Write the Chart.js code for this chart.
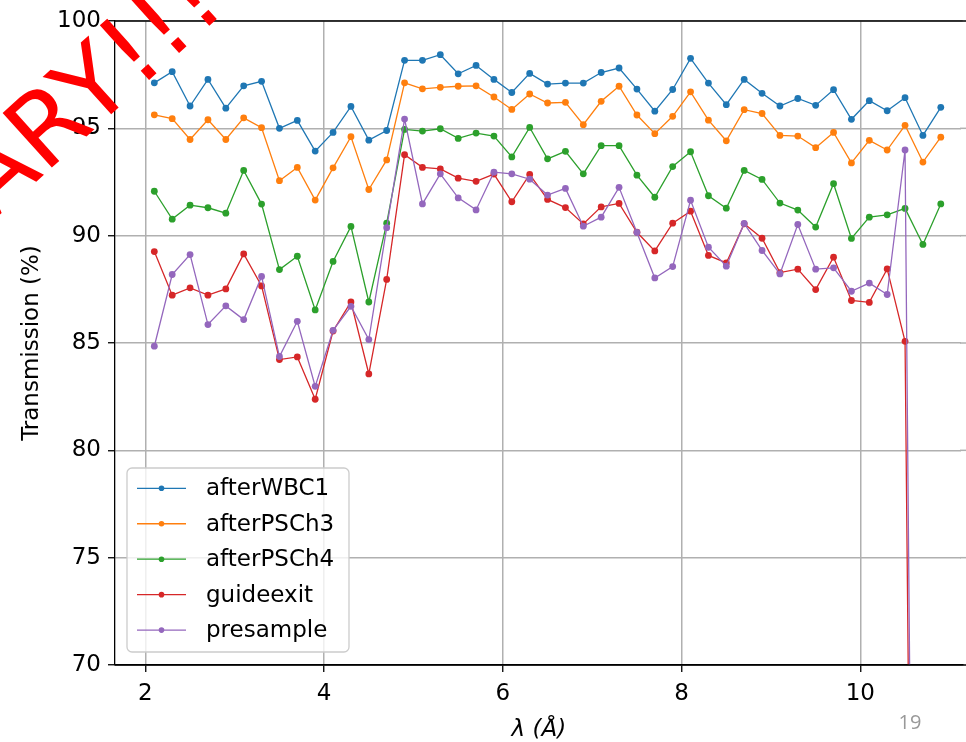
<!DOCTYPE html>
<html>
<head>
<meta charset="utf-8">
<script src="https://cdn.jsdelivr.net/npm/chart.js@4.4.0/dist/chart.umd.min.js"></script>
<style>
html, body { margin: 0; padding: 0; background: #fff; overflow: hidden; }
canvas { display: block; }
</style>
</head>
<body>
<canvas id="grafico" width="966" height="742"></canvas>
<script>
// wavelength (Angstrom)
var lambda = [2.1, 2.3, 2.5, 2.7, 2.9, 3.1, 3.3, 3.5, 3.7, 3.9,
              4.1, 4.3, 4.5, 4.7, 4.9, 5.1, 5.3, 5.5, 5.7, 5.9,
              6.1, 6.3, 6.5, 6.7, 6.9, 7.1, 7.3, 7.5, 7.7, 7.9,
              8.1, 8.3, 8.5, 8.7, 8.9, 9.1, 9.3, 9.5, 9.7, 9.9,
              10.1, 10.3, 10.5, 10.7, 10.9];

var afterWBC1 = [97.12, 97.64, 96.04, 97.28, 95.94, 96.98, 97.19, 95.0, 95.37, 93.94,
                 94.81, 96.02, 94.45, 94.9, 98.17, 98.17, 98.43, 97.54, 97.93, 97.28,
                 96.67, 97.56, 97.06, 97.11, 97.11, 97.6, 97.81, 96.83, 95.8, 96.81,
                 98.26, 97.11, 96.1, 97.28, 96.63, 96.04, 96.39, 96.07, 96.8, 95.42,
                 96.29, 95.82, 96.43, 94.67, 95.98];
var afterPSCh3 = [95.63, 95.45, 94.48, 95.4, 94.48, 95.49, 95.03, 92.56, 93.18, 91.66,
                  93.16, 94.61, 92.15, 93.53, 97.12, 96.84, 96.91, 96.96, 96.98, 96.46,
                  95.88, 96.6, 96.18, 96.21, 95.17, 96.26, 96.96, 95.62, 94.75, 95.56,
                  96.7, 95.38, 94.42, 95.87, 95.69, 94.67, 94.64, 94.1, 94.81, 93.39,
                  94.44, 93.99, 95.14, 93.43, 94.59];
var afterPSCh4 = [92.07, 90.77, 91.42, 91.3, 91.05, 93.04, 91.47, 88.42, 89.04, 86.54,
                  88.8, 90.43, 86.91, 90.58, 94.95, 94.87, 94.98, 94.53, 94.78, 94.64,
                  93.67, 95.04, 93.58, 93.93, 92.88, 94.19, 94.19, 92.82, 91.79, 93.22,
                  93.91, 91.86, 91.28, 93.04, 92.62, 91.52, 91.19, 90.4, 92.42, 89.87,
                  90.86, 90.97, 91.27, 89.59, 91.48];
var guideexit = [89.26, 87.23, 87.57, 87.23, 87.52, 89.15, 87.66, 84.23, 84.35, 82.38,
                 85.56, 86.91, 83.56, 87.96, 93.77, 93.18, 93.11, 92.68, 92.53, 92.87,
                 91.58, 92.85, 91.69, 91.31, 90.55, 91.34, 91.5, 90.16, 89.29, 90.58,
                 91.14, 89.08, 88.73, 90.55, 89.88, 88.28, 88.44, 87.49, 89.0, 86.98,
                 86.89, 88.45, 85.08, 0, 0];
var presample = [84.85, 88.19, 89.12, 85.86, 86.73, 86.09, 88.1, 84.37, 86.01, 82.98,
                 85.59, 86.71, 85.16, 90.37, 95.43, 91.48, 92.88, 91.76, 91.2, 92.96,
                 92.88, 92.63, 91.89, 92.2, 90.44, 90.86, 92.25, 90.15, 88.03, 88.56,
                 91.65, 89.46, 88.58, 90.57, 89.31, 88.22, 90.52, 88.44, 88.5, 87.41,
                 87.79, 87.26, 93.99, 0, 0];

var seriesNames = ['afterWBC1', 'afterPSCh3', 'afterPSCh4', 'guideexit', 'presample'];
var seriesValues = [afterWBC1, afterPSCh3, afterPSCh4, guideexit, presample];
var seriesColors = ['#1f77b4', '#ff7f0e', '#2ca02c', '#d62728', '#9467bd'];

var xTicks = [2, 4, 6, 8, 10];
var yTicks = [70, 75, 80, 85, 90, 95, 100];

var FONT = 'DejaVu Sans';
var FS = 23;

var datasets = seriesNames.map(function (name, i) {
    return {
        label: name,
        data: lambda.map(function (x, j) { return { x: x, y: seriesValues[i][j] }; }),
        borderColor: seriesColors[i],
        backgroundColor: seriesColors[i],
        borderWidth: 1.3,
        pointRadius: 3.4,
        pointHoverRadius: 3.4,
        pointBorderWidth: 0,
        tension: 0,
        order: seriesNames.length - i
    };
});

function gridColor(c) {
    return c.tick && xTicks.indexOf(c.tick.value) >= 0 ? '#b0b0b0' : 'rgba(0,0,0,0)';
}
function gridTickColor(c) {
    return c.tick && xTicks.indexOf(c.tick.value) >= 0 ? '#000' : 'rgba(0,0,0,0)';
}

// legend, top spine, page number, watermark
var extras = {
    id: 'extras',
    afterDraw: function (chart) {
        var ctx = chart.ctx;
        var a = chart.chartArea;
        ctx.save();

        // nothing should stand at the right edge: the right spine is off the page
        ctx.fillStyle = '#fff';
        ctx.fillRect(chart.width - 5, a.top + 1, 5, a.bottom - a.top - 2);
        ctx.strokeStyle = '#b0b0b0';
        ctx.lineWidth = 1.5;
        var ys = chart.scales.y;
        yTicks.forEach(function (v) {
            if (v === 70 || v === 100) return;
            var py = ys.getPixelForValue(v);
            ctx.beginPath();
            ctx.moveTo(chart.width - 6, py);
            ctx.lineTo(chart.width, py);
            ctx.stroke();
        });

        ctx.strokeStyle = '#000';
        ctx.lineWidth = 1.3;
        ctx.beginPath();
        ctx.moveTo(a.left, a.top);
        ctx.lineTo(chart.width, a.top);
        ctx.moveTo(a.left, a.bottom);
        ctx.lineTo(chart.width, a.bottom);
        ctx.stroke();

        // legend box
        var lx = 127, ly = 468, lw = 222, lh = 184, r = 5;
        ctx.beginPath();
        ctx.moveTo(lx + r, ly);
        ctx.arcTo(lx + lw, ly, lx + lw, ly + lh, r);
        ctx.arcTo(lx + lw, ly + lh, lx, ly + lh, r);
        ctx.arcTo(lx, ly + lh, lx, ly, r);
        ctx.arcTo(lx, ly, lx + lw, ly, r);
        ctx.closePath();
        ctx.fillStyle = 'rgba(255,255,255,0.8)';
        ctx.fill();
        ctx.strokeStyle = '#cccccc';
        ctx.lineWidth = 1.3;
        ctx.stroke();

        ctx.font = FS + 'px "' + FONT + '"';
        ctx.textBaseline = 'middle';
        ctx.textAlign = 'left';
        seriesNames.forEach(function (name, i) {
            var y = 488.3 + i * 35.45;
            ctx.strokeStyle = seriesColors[i];
            ctx.lineWidth = 1.3;
            ctx.beginPath();
            ctx.moveTo(137, y);
            ctx.lineTo(186, y);
            ctx.stroke();
            ctx.fillStyle = seriesColors[i];
            ctx.beginPath();
            ctx.arc(161.5, y, 2.8, 0, Math.PI * 2);
            ctx.fill();
            ctx.fillStyle = '#000';
            ctx.fillText(name, 206, y + 1);
        });

        // page number
        ctx.fillStyle = '#999999';
        ctx.font = '20px "Open Sans"';
        ctx.textAlign = 'center';
        ctx.fillText('19', 910, 723);

        // watermark
        ctx.translate(228, 9);
        ctx.rotate(-42 * Math.PI / 180);
        ctx.fillStyle = '#ff0000';
        ctx.font = '101px "' + FONT + '"';
        ctx.textAlign = 'right';
        ctx.textBaseline = 'alphabetic';
        ctx.fillText('PRELIMINARY!!!', 0, 0);

        ctx.restore();
    }
};

var ctx = document.querySelector('#grafico').getContext('2d');
var lineChart = new Chart(ctx, {
    type: 'line',
    data: { datasets: datasets },
    options: {
        responsive: false,
        animation: false,
        devicePixelRatio: 1,
        layout: { padding: { left: 18, top: 21, right: 0, bottom: 0 } },
        plugins: {
            legend: { display: false },
            tooltip: { enabled: false }
        },
        scales: {
            x: {
                type: 'linear',
                min: 1.66,
                max: 11.144,
                afterBuildTicks: function (scale) {
                    scale.ticks = xTicks.map(function (v) { return { value: v }; });
                },
                afterFit: function (scale) { scale.height = 77; },
                grid: { color: gridColor, lineWidth: 1.5, tickLength: 7, tickColor: gridTickColor, tickWidth: 1.3 },
                border: { color: '#000', width: 1.3 },
                ticks: { color: '#000', font: { family: FONT, size: FS }, padding: 8, maxRotation: 0 },
                title: {
                    display: true,
                    text: 'λ (Å)',
                    color: '#000',
                    font: { family: FONT, size: FS, style: 'italic' },
                    padding: { top: 0, bottom: -2 }
                }
            },
            y: {
                min: 70,
                max: 100,
                afterBuildTicks: function (scale) {
                    scale.ticks = yTicks.map(function (v) { return { value: v }; });
                },
                afterFit: function (scale) { scale.width = 97; },
                grid: { color: '#b0b0b0', lineWidth: 1.5, tickLength: 7, tickColor: '#000', tickWidth: 1.3 },
                border: { color: '#000', width: 1.3 },
                ticks: { color: '#000', font: { family: FONT, size: FS }, padding: 7 },
                title: {
                    display: true,
                    text: 'Transmission (%)',
                    color: '#000',
                    font: { family: FONT, size: FS },
                    padding: { top: 0, bottom: 0 }
                }
            }
        }
    },
    plugins: [extras]
});
</script>
</body>
</html>
